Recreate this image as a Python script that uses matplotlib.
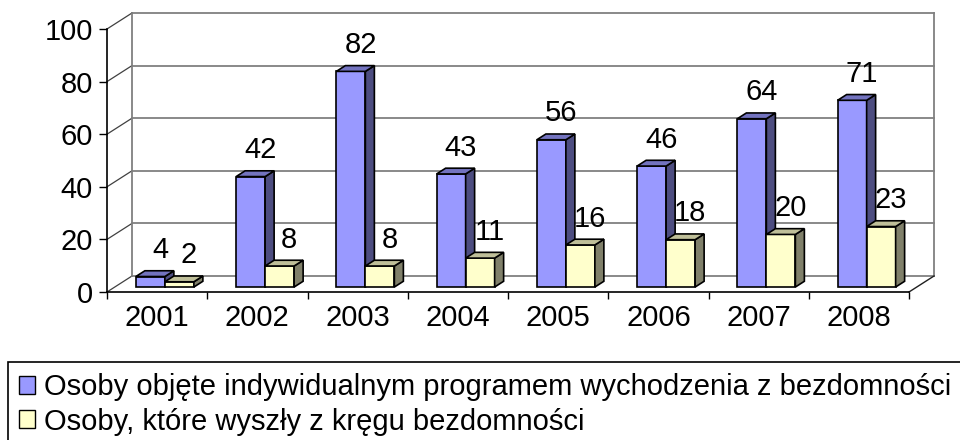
import matplotlib
matplotlib.use("Agg")
import matplotlib.pyplot as plt
from matplotlib.patches import Polygon, Patch

plt.rcParams['font.family'] = ['Liberation Sans', 'DejaVu Sans']

# dane
lata = ['2001', '2002', '2003', '2004', '2005', '2006', '2007', '2008']
objete = [4, 42, 82, 43, 56, 46, 64, 71]
wyszly = [2, 8, 8, 11, 16, 18, 20, 23]
nazwy = ['Osoby objęte indywidualnym programem wychodzenia z bezdomności',
         'Osoby, które wyszły z kręgu bezdomności']

# kolory (przod, bok, gora)
kol_nieb = ('#9999FF', '#4D4D80', '#7373BF')
kol_zolt = ('#FFFFCC', '#80806A', '#BFBF99')

FS = 21
W, H = 960, 440
fig = plt.figure(figsize=(W / 100, H / 100), dpi=100)
x0, x1, y0, y1 = 107, 909, 292, 29
ax = fig.add_axes([x0 / W, (H - y0) / H, (x1 - x0) / W, (y0 - y1) / H])
n = len(lata)
ax.set_xlim(-0.5, n - 0.5)
ax.set_ylim(0, 100)

# przelicznik piksel -> jednostki danych
px_x = n / (x1 - x0)
px_y = 100 / (y0 - y1)
DX, DY = 25 * px_x, 16 * px_y      # glebokosc scian
f0, fd = 0.31, 0.36                # polozenie i glebokosc slupkow
bw = 29 * px_x

szary = '#808080'
# sciana tylna + siatka
for v in range(0, 101, 20):
    ax.plot([-0.5 + DX, n - 0.5 + DX], [v + DY, v + DY], color=szary, lw=1.3,
            clip_on=False, zorder=1)
    ax.plot([-0.5, -0.5 + DX], [v, v + DY], color='#404040', lw=0.9,
            clip_on=False, zorder=1)
ax.plot([-0.5 + DX, -0.5 + DX], [DY, 100 + DY], color=szary, lw=1.3, clip_on=False, zorder=1)
ax.plot([n - 0.5 + DX, n - 0.5 + DX], [DY, 100 + DY], color=szary, lw=1.3, clip_on=False, zorder=1)
ax.plot([n - 0.5, n - 0.5 + DX], [0, DY], color='#202020', lw=1.0, clip_on=False, zorder=1)


def slupek(xl, val, kolory):
    sx, sy = f0 * DX, f0 * DY
    dx, dy = fd * DX, fd * DY
    ax.bar(xl + sx, val, width=bw, bottom=sy, align='edge', color=kolory[0],
           edgecolor='black', lw=1.2, zorder=3)
    top = sy + val
    xr = xl + sx + bw
    bok = Polygon([(xr, sy), (xr + dx, sy + dy), (xr + dx, top + dy), (xr, top)],
                  closed=True, fc=kolory[1], ec='black', lw=1.2, zorder=3, clip_on=False)
    gora = Polygon([(xl + sx, top), (xr, top), (xr + dx, top + dy), (xl + sx + dx, top + dy)],
                   closed=True, fc=kolory[2], ec='black', lw=1.2, zorder=3, clip_on=False)
    ax.add_patch(bok)
    ax.add_patch(gora)
    ax.annotate(str(val), (xl + sx + bw / 2, top), xytext=(7, 19), textcoords='offset points',
                ha='center', va='center', fontsize=FS, zorder=5, annotation_clip=False)


for i in range(n):
    slupek(i - bw, objete[i], kol_nieb)
    slupek(i, wyszly[i], kol_zolt)

# osie
for s in ['top', 'right']:
    ax.spines[s].set_visible(False)
ax.spines['left'].set_color('black')
ax.spines['bottom'].set_color('black')
ax.spines['left'].set_linewidth(1.2)
ax.spines['bottom'].set_linewidth(1.2)
ax.set_yticks(range(0, 101, 20))
ax.set_xticks(range(n))
ax.set_xticklabels(lata)
ax.set_xticks([i - 0.5 for i in range(n + 1)], minor=True)
ax.tick_params(axis='x', which='major', length=0, pad=9, labelsize=FS)
ax.tick_params(axis='x', which='minor', length=5, width=1, direction='out')
ax.tick_params(axis='y', length=6, width=1, pad=4, labelsize=FS)
ax.patch.set_alpha(0)

# legenda
uchwyty = [Patch(fc=kol_nieb[0], ec='black', lw=1), Patch(fc=kol_zolt[0], ec='black', lw=1)]
leg = fig.legend(uchwyty, nazwy, loc='upper left', bbox_to_anchor=(8 / W, 1 - 362 / H),
                 fontsize=FS, frameon=True, fancybox=False, framealpha=1, edgecolor='black',
                 handlelength=0.55, handleheight=0.55, handletextpad=0.3, labelspacing=0.22,
                 borderpad=0.38, borderaxespad=0)
leg.get_frame().set_linewidth(1.2)

fig.savefig('out.png', dpi=100)
